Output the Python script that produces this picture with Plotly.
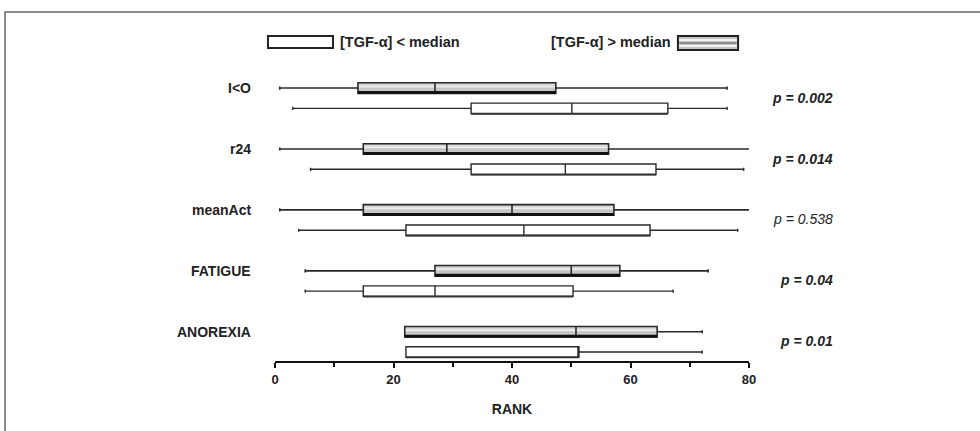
import plotly.graph_objects as go

# ---- data (ranks) ----
variables = ["I&lt;O", "r24", "meanAct", "FATIGUE", "ANOREXIA"]
p_values = ["p = 0.002", "p = 0.014", "p = 0.538", "p = 0.04", "p = 0.01"]
p_bold = [True, True, False, True, True]

# [TGF-a] > median (grey, upper row of each group)
hi_low = [0.8, 0.8, 0.8, 5.1, 21.9]
hi_q1 = [14.0, 14.9, 14.9, 27.0, 21.9]
hi_med = [27.0, 29.0, 40.0, 50.0, 50.8]
hi_q3 = [47.4, 56.3, 57.2, 58.2, 64.5]
hi_up = [76.3, 80.2, 80.2, 73.1, 72.1]

# [TGF-a] < median (white, lower row of each group)
lo_low = [3.0, 6.0, 4.0, 5.1, 22.1]
lo_q1 = [33.1, 33.1, 22.1, 14.9, 22.1]
lo_med = [50.1, 49.0, 42.0, 27.0, 51.3]
lo_q3 = [66.3, 64.3, 63.3, 50.3, 51.3]
lo_up = [76.3, 79.1, 78.1, 67.2, 72.1]

tick_vals = [0, 20, 40, 60, 80]

# ---- styling ----
FONT = "Liberation Sans, Arial, sans-serif"
TXT = "#222222"
LINE = "#2a2a2a"
BOXW = 0.52
Y_RANGE = [13.44, -0.89]


def ypaper(v):
    return (Y_RANGE[0] - v) / (Y_RANGE[0] - Y_RANGE[1])


fig = go.Figure()
shapes = []

for g in range(len(variables)):
    yh = 3 * g
    yl = 3 * g + 1
    shapes.append(dict(type="rect", xref="x", yref="y", x0=hi_q1[g], x1=hi_q3[g],
                       y0=yh - BOXW / 2, y1=yh + BOXW / 2, fillcolor="#c6c6c6",
                       line=dict(width=0), layer="below"))
    shapes.append(dict(type="line", xref="x", yref="y", x0=hi_q1[g], x1=hi_q3[g],
                       y0=yh - 0.08, y1=yh - 0.08, line=dict(color="#ececec", width=2),
                       layer="below"))
    shapes.append(dict(type="line", xref="x", yref="y", x0=hi_q1[g], x1=hi_q3[g],
                       y0=yh - BOXW / 2 + 0.08, y1=yh - BOXW / 2 + 0.08,
                       line=dict(color="#dcdcdc", width=1), layer="below"))
    shapes.append(dict(type="line", xref="x", yref="y", x0=hi_q1[g], x1=hi_q3[g],
                       y0=yh + BOXW / 2 - 0.04, y1=yh + BOXW / 2 - 0.04,
                       line=dict(color="#111111", width=3), layer="above"))
    shapes.append(dict(type="line", xref="x", yref="y", x0=lo_q1[g], x1=lo_q3[g],
                       y0=yl + BOXW / 2, y1=yl + BOXW / 2,
                       line=dict(color="#333333", width=2), layer="above"))

    fig.add_trace(go.Box(
        orientation="h", y=[yh], q1=[hi_q1[g]], median=[hi_med[g]], q3=[hi_q3[g]],
        lowerfence=[hi_low[g]], upperfence=[hi_up[g]], width=BOXW, whiskerwidth=0.3,
        fillcolor="rgba(0,0,0,0)", line=dict(color=LINE, width=1.6),
        boxpoints=False, showlegend=False, name="[TGF-α] > median"))
    fig.add_trace(go.Box(
        orientation="h", y=[yl], q1=[lo_q1[g]], median=[lo_med[g]], q3=[lo_q3[g]],
        lowerfence=[lo_low[g]], upperfence=[lo_up[g]], width=BOXW, whiskerwidth=0.3,
        fillcolor="white", line=dict(color=LINE, width=1.4),
        boxpoints=False, showlegend=False, name="[TGF-α] < median"))

annotations = []
for g, v in enumerate(variables):
    annotations.append(dict(xref="paper", yref="paper", x=-0.0464, y=ypaper(3 * g),
                            text=v, showarrow=False, xanchor="right", yanchor="middle",
                            font=dict(family=FONT, size=14, color=TXT, weight="bold")))
    annotations.append(dict(xref="paper", yref="paper", x=1.1814, y=ypaper(3 * g + 0.47),
                            text="<i>%s</i>" % p_values[g], showarrow=False,
                            xanchor="right", yanchor="middle",
                            font=dict(family=FONT, size=14, color=TXT,
                                      weight="bold" if p_bold[g] else "normal")))

# legend (manual)
shapes.append(dict(type="rect", xref="paper", yref="paper", x0=-0.0148, x1=0.1224,
                   y0=1.0756, y1=1.1168, fillcolor="white",
                   line=dict(color="#222222", width=2)))
annotations.append(dict(xref="paper", yref="paper", x=0.1329, y=1.0962,
                        text="[TGF-α] &lt; median", showarrow=False, xanchor="left",
                        yanchor="middle",
                        font=dict(family=FONT, size=14.5, color=TXT, weight="bold")))
shapes.append(dict(type="rect", xref="paper", yref="paper", x0=0.850, x1=0.977,
                   y0=1.0687, y1=1.1168, fillcolor="#c6c6c6",
                   line=dict(color="#222222", width=2)))
for yy in (1.0825, 1.1030):
    shapes.append(dict(type="line", xref="paper", yref="paper", x0=0.853, x1=0.974,
                       y0=yy, y1=yy, line=dict(color="#f4f4f4", width=2)))
shapes.append(dict(type="line", xref="paper", yref="paper", x0=0.853, x1=0.974,
                   y0=1.0925, y1=1.0925, line=dict(color="#555555", width=1)))
annotations.append(dict(xref="paper", yref="paper", x=0.8397, y=1.0962,
                        text="[TGF-α] &gt; median", showarrow=False, xanchor="right",
                        yanchor="middle",
                        font=dict(family=FONT, size=14.5, color=TXT, weight="bold")))

# outer frame
shapes.append(dict(type="rect", xref="paper", yref="paper", x0=-0.5696, x1=1.52,
                   y0=-0.30, y1=1.1993, line=dict(color="#666666", width=1.5),
                   fillcolor="rgba(0,0,0,0)"))

fig.update_layout(
    width=980, height=431,
    margin=dict(l=275, r=231, t=70, b=70),
    paper_bgcolor="white", plot_bgcolor="white",
    shapes=shapes, annotations=annotations, showlegend=False,
    xaxis=dict(range=[0, 80], tickvals=tick_vals, ticks="outside", ticklen=5,
               tickwidth=2, tickcolor="#111111", showline=True, linecolor="#111111",
               linewidth=2, showgrid=False, zeroline=False,
               minor=dict(dtick=10, ticks="outside", ticklen=4, tickwidth=1.5,
                          tickcolor="#111111"),
               tickfont=dict(family=FONT, size=13, color=TXT, weight="bold"),
               title=dict(text="RANK", standoff=19,
                          font=dict(family=FONT, size=14, color=TXT, weight="bold"))),
    yaxis=dict(range=Y_RANGE, showticklabels=False, showgrid=False,
               zeroline=False, showline=False, ticks=""),
)

fig.write_html("out.html", config={"displayModeBar": False},
               post_script="document.body.style.margin='0';")
